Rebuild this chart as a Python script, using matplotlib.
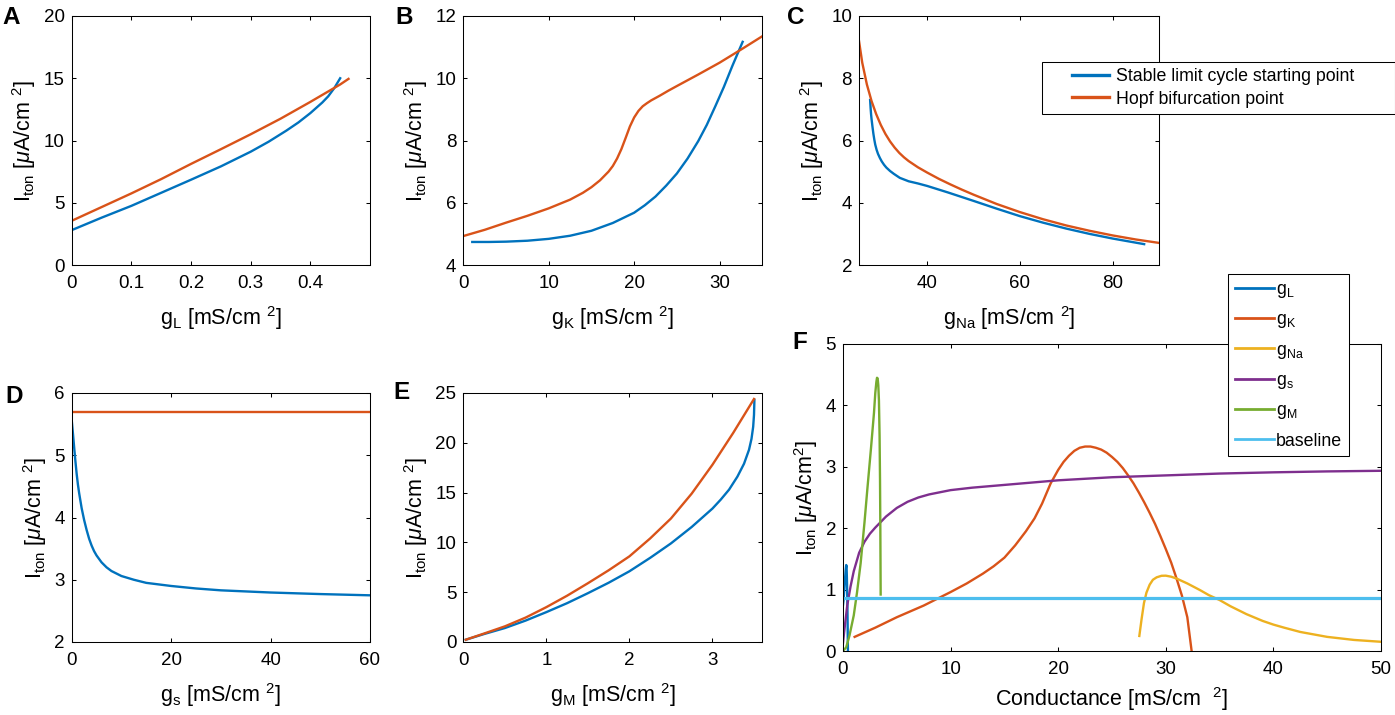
import numpy as np
import matplotlib
matplotlib.use('Agg')
import matplotlib.pyplot as plt
from matplotlib.patches import Rectangle

plt.rcParams['font.family'] = ['Liberation Sans', 'DejaVu Sans']
plt.rcParams['mathtext.fontset'] = 'custom'
plt.rcParams['mathtext.rm'] = 'Liberation Sans'
plt.rcParams['mathtext.it'] = 'Liberation Sans:italic'
plt.rcParams['mathtext.bf'] = 'Liberation Sans:bold'

BLUE = '#0072BD'
ORANGE = '#D95319'
YELLOW = '#EDB120'
PURPLE = '#7E2F8E'
GREEN = '#77AC30'
CYAN = '#4DBEEE'

W, H = 1395, 715
TICK_FS = 13.5
LABEL_FS = 15.5
LEG_FS = 12.8
LW = 1.7

# ---- A: g_L ----
gL_slc_x = [0, 0.05, 0.1, 0.15, 0.2, 0.25, 0.3, 0.33, 0.36, 0.38, 0.4, 0.42, 0.43, 0.44, 0.45]
gL_slc_y = [2.8, 3.8, 4.75, 5.8, 6.85, 7.92, 9.1, 9.9, 10.8, 11.45, 12.2, 13.05, 13.55, 14.2, 15.0]
gL_hopf_x = [0, 0.05, 0.1, 0.15, 0.2, 0.25, 0.3, 0.35, 0.4, 0.45, 0.464]
gL_hopf_y = [3.55, 4.65, 5.75, 6.9, 8.12, 9.3, 10.5, 11.75, 13.1, 14.5, 14.95]

# ---- B: g_K ----
gK_slc_x = [1.05, 3, 5, 7.5, 10, 12.5, 15, 17.5, 20, 21.25, 22.5, 23.75, 25, 26.25, 27.5, 28.5, 29.5,
            30.5, 31.5, 32.2, 32.7]
gK_slc_y = [4.74, 4.74, 4.75, 4.78, 4.84, 4.94, 5.1, 5.35, 5.68, 5.92, 6.2, 6.55, 6.94, 7.42, 7.98,
            8.5, 9.1, 9.72, 10.4, 10.85, 11.17]
gK_hopf_x = [0, 2.5, 5, 7.5, 10, 12.5, 14, 15, 16, 17, 17.5, 18, 18.5, 19, 19.5, 20, 20.5, 21, 21.5,
             22, 23, 24, 25, 27.5, 30, 32.5, 35]
gK_hopf_y = [4.93, 5.13, 5.36, 5.58, 5.82, 6.1, 6.32, 6.5, 6.72, 7.0, 7.18, 7.42, 7.72, 8.08, 8.45,
             8.74, 8.95, 9.1, 9.2, 9.29, 9.44, 9.6, 9.75, 10.12, 10.5, 10.92, 11.35]

# ---- C: g_Na ----
gNa_slc_x = [27.7, 27.8, 27.9, 28.0, 28.2, 28.4, 28.6, 28.8, 29.1, 29.4, 29.8, 30.2, 30.7, 31.2, 32,
             32.8, 34.1, 36, 38, 40, 44.5, 50, 55, 60, 65, 70, 75, 80, 86.8]
gNa_slc_y = [7.3, 7.05, 6.85, 6.7, 6.45, 6.22, 6.03, 5.87, 5.7, 5.57, 5.44, 5.33, 5.22, 5.13, 5.02,
             4.93, 4.8, 4.69, 4.62, 4.54, 4.33, 4.06, 3.81, 3.57, 3.36, 3.17, 3.0, 2.85, 2.67]
gNa_hopf_x = [25.3, 26, 27, 28, 29, 30, 31, 32, 33, 34, 35, 36, 38, 40, 42.5, 45, 47.5, 50, 55, 60,
              65, 70, 75, 80, 85, 90]
gNa_hopf_y = [9.2, 8.5, 7.8, 7.27, 6.85, 6.5, 6.21, 5.97, 5.77, 5.6, 5.46, 5.34, 5.14, 4.97, 4.77,
              4.59, 4.42, 4.26, 3.96, 3.7, 3.47, 3.27, 3.1, 2.95, 2.82, 2.71]

# ---- D: g_s ----
gs_slc_x = [0, 0.1, 0.25, 0.5, 0.75, 1, 1.25, 1.5, 2, 2.5, 3, 3.5, 4, 4.5, 5, 6, 7, 8, 9, 10, 12.5,
            15, 20, 25, 30, 40, 50, 60]
gs_slc_y = [5.57, 5.48, 5.35, 5.12, 4.9, 4.7, 4.53, 4.39, 4.15, 3.96, 3.8, 3.66, 3.55, 3.46, 3.39, 3.28,
            3.2, 3.14, 3.1, 3.06, 3.0, 2.95, 2.9, 2.86, 2.83, 2.795, 2.77, 2.75]
gs_hopf_x = [0, 60]
gs_hopf_y = [5.7, 5.7]

# ---- E: g_M ----
gM_slc_x = [0.03, 0.25, 0.5, 0.75, 1, 1.25, 1.5, 1.75, 2, 2.25, 2.5, 2.75, 3, 3.1, 3.2, 3.3, 3.38,
            3.44, 3.47, 3.49, 3.5, 3.505]
gM_slc_y = [0.23, 0.8, 1.4, 2.15, 3.0, 3.9, 4.9, 5.95, 7.1, 8.45, 9.9, 11.55, 13.4, 14.3, 15.3, 16.6,
            17.9, 19.3, 20.4, 21.6, 22.8, 24.3]
gM_hopf_x = [0.03, 0.25, 0.5, 0.75, 1, 1.25, 1.5, 1.75, 2, 2.25, 2.5, 2.75, 3, 3.25, 3.5]
gM_hopf_y = [0.23, 0.85, 1.57, 2.45, 3.5, 4.65, 5.9, 7.2, 8.6, 10.4, 12.4, 14.9, 17.8, 21.0, 24.4]

# ---- F: bistability width vs conductance ----
fL_x = [0, 0.05, 0.1, 0.15, 0.2, 0.25, 0.3, 0.33, 0.36, 0.4, 0.43, 0.45, 0.46]
fL_y = [0.75, 0.83, 0.95, 1.08, 1.2, 1.32, 1.4, 1.38, 1.2, 0.85, 0.45, 0.1, 0.0]
fK_x = [1.08, 3, 5, 7.5, 10, 11.5, 13, 14, 15, 16, 17, 17.8, 18.5, 19.3, 20, 20.5, 21, 21.5, 22, 22.5,
        23, 23.5, 24, 24.5, 25, 25.5, 26, 26.5, 27, 27.5, 28, 28.5, 29, 29.5, 30, 30.5, 31, 31.5, 32, 32.4]
fK_y = [0.23, 0.38, 0.55, 0.74, 0.96, 1.1, 1.26, 1.38, 1.52, 1.72, 1.95, 2.16, 2.4, 2.73, 2.95, 3.08,
        3.18, 3.26, 3.31, 3.33, 3.33, 3.31, 3.28, 3.23, 3.16, 3.08, 2.98, 2.86, 2.73, 2.58, 2.42, 2.25,
        2.07, 1.87, 1.66, 1.44, 1.18, 0.9, 0.55, 0.0]
fNa_x = [27.54, 27.75, 27.97, 28.2, 28.5, 28.8, 29.15, 29.6, 30.0, 30.5, 31.0, 32, 33.2, 34, 35, 36,
         37.5, 39, 40, 41, 42.5, 45, 47.5, 50]
fNa_y = [0.245, 0.52, 0.78, 0.95, 1.08, 1.16, 1.2, 1.225, 1.227, 1.21, 1.18, 1.1, 0.99, 0.91, 0.83,
         0.73, 0.6, 0.49, 0.43, 0.38, 0.31, 0.23, 0.18, 0.15]
fs_x = [0, 0.1, 0.2, 0.4, 0.7, 1.0, 1.5, 2, 2.5, 3, 3.5, 4, 5, 6, 7, 8, 10, 12, 14, 16, 18, 20, 25,
        30, 35, 40, 45, 50]
fs_y = [0.13, 0.3, 0.45, 0.75, 1.05, 1.3, 1.6, 1.78, 1.91, 2.01, 2.1, 2.19, 2.33, 2.43, 2.5, 2.55,
        2.62, 2.66, 2.69, 2.72, 2.75, 2.78, 2.83, 2.86, 2.89, 2.91, 2.925, 2.935]
fM_x = [0, 0.3, 0.6, 1.0, 1.3, 1.64, 2.0, 2.26, 2.6, 2.88, 3.0, 3.1, 3.16, 3.22, 3.28, 3.34, 3.4,
        3.44, 3.47, 3.5]
fM_y = [0.0, 0.06, 0.25, 0.58, 0.95, 1.43, 2.1, 2.63, 3.3, 3.88, 4.2, 4.38, 4.45, 4.44, 4.33, 4.08,
        3.5, 2.8, 2.0, 0.92]
base_x = [0, 50]
base_y = [0.86, 0.86]

F_labels = ['g$_{\\mathrm{L}}$', 'g$_{\\mathrm{K}}$', 'g$_{\\mathrm{Na}}$', 'g$_{\\mathrm{s}}$',
            'g$_{\\mathrm{M}}$', 'baseline']
leg_labels = ['Stable limit cycle starting point', 'Hopf bifurcation point']

YLAB = 'I$_{\\mathrm{ton}}$ [$\\mu$A/cm $^{2}$]'


def px_axes(fig, left, top, right, bottom):
    return fig.add_axes([left / W, 1 - bottom / H, (right - left) / W, (bottom - top) / H])


def style(ax, xlim, ylim, xticks, xticklabels, yticks, xlabel, ylabel, xpad=9):
    ax.set_xlim(xlim)
    ax.set_ylim(ylim)
    ax.set_xticks(xticks)
    ax.set_xticklabels(xticklabels)
    ax.set_yticks(yticks)
    ax.set_yticklabels([f'{t:g}' for t in yticks])
    ax.tick_params(direction='in', top=True, right=True, length=3, width=0.75,
                   labelsize=TICK_FS, pad=5)
    ax.tick_params(axis='x', pad=7)
    for s in ax.spines.values():
        s.set_linewidth(0.75)
    ax.set_xlabel(xlabel, fontsize=LABEL_FS, labelpad=xpad)
    ax.set_ylabel(ylabel, fontsize=LABEL_FS, labelpad=4)


fig = plt.figure(figsize=(W / 100, H / 100), dpi=100)

# A
ax = px_axes(fig, 71.7, 16, 370, 265)
ax.plot(gL_slc_x, gL_slc_y, color=BLUE, lw=LW)
ax.plot(gL_hopf_x, gL_hopf_y, color=ORANGE, lw=LW)
style(ax, [0, 0.5], [0, 20], [0, 0.1, 0.2, 0.3, 0.4], ['0', '0.1', '0.2', '0.3', '0.4'],
      [0, 5, 10, 15, 20], 'g$_{\\mathrm{L}}$ [mS/cm $^{2}$]', YLAB)

# B
ax = px_axes(fig, 463.3, 16, 762.3, 265)
ax.plot(gK_slc_x, gK_slc_y, color=BLUE, lw=LW)
ax.plot(gK_hopf_x, gK_hopf_y, color=ORANGE, lw=LW)
style(ax, [0, 35], [4, 12], [0, 10, 20, 30], ['0', '10', '20', '30'],
      [4, 6, 8, 10, 12], 'g$_{\\mathrm{K}}$ [mS/cm $^{2}$]', YLAB)

# C
ax = px_axes(fig, 859, 16, 1159, 265)
l1, = ax.plot(gNa_slc_x, gNa_slc_y, color=BLUE, lw=LW)
l2, = ax.plot(gNa_hopf_x, gNa_hopf_y, color=ORANGE, lw=LW)
style(ax, [25.3, 90], [2, 10], [40, 60, 80], ['40', '60', '80'],
      [2, 4, 6, 8, 10], 'g$_{\\mathrm{Na}}$ [mS/cm $^{2}$]', YLAB)

# legend for the top row, white box reaching the figure edge
fig.add_artist(Rectangle((1042 / W, 1 - 114 / H), (1394.5 - 1042) / W, (114 - 61.7) / H,
                         transform=fig.transFigure, facecolor='white', edgecolor='black',
                         lw=0.75, zorder=4))
legC = fig.legend([l1, l2], leg_labels, loc='center', bbox_to_anchor=(1213 / W, 1 - 88 / H),
                  frameon=False, fontsize=LEG_FS, handlelength=2.1, handletextpad=0.35,
                  labelspacing=0.3)
legC.set_zorder(5)
for lh in legC.get_lines():
    lh.set_linewidth(2.4)

# D
ax = px_axes(fig, 71.7, 393, 370, 642)
ax.plot(gs_slc_x, gs_slc_y, color=BLUE, lw=LW)
ax.plot(gs_hopf_x, gs_hopf_y, color=ORANGE, lw=LW)
style(ax, [0, 60], [2, 6], [0, 20, 40, 60], ['0', '20', '40', '60'],
      [2, 3, 4, 5, 6], 'g$_{\\mathrm{s}}$ [mS/cm $^{2}$]', YLAB)

# E
ax = px_axes(fig, 463.3, 393, 762.3, 642)
ax.plot(gM_slc_x, gM_slc_y, color=BLUE, lw=LW)
ax.plot(gM_hopf_x, gM_hopf_y, color=ORANGE, lw=LW)
style(ax, [0, 3.6], [0, 25], [0, 1, 2, 3], ['0', '1', '2', '3'],
      [0, 5, 10, 15, 20, 25], 'g$_{\\mathrm{M}}$ [mS/cm $^{2}$]', YLAB)

# F
ax = px_axes(fig, 843, 344, 1381, 651)
hs = []
for xs, ys, c, w in [(fL_x, fL_y, BLUE, LW), (fK_x, fK_y, ORANGE, LW), (fNa_x, fNa_y, YELLOW, LW),
                     (fs_x, fs_y, PURPLE, LW), (fM_x, fM_y, GREEN, LW), (base_x, base_y, CYAN, 2.3)]:
    h, = ax.plot(xs, ys, color=c, lw=w)
    hs.append(h)
style(ax, [0, 50], [0, 5], [0, 10, 20, 30, 40, 50], ['0', '10', '20', '30', '40', '50'],
      [0, 1, 2, 3, 4, 5], 'Conductance [mS/cm  $^{2}$]', 'I$_{\\mathrm{ton}}$ [$\\mu$A/cm$^{2}$]',
      xpad=5)
leg = ax.legend(hs, F_labels, loc='upper left', bbox_to_anchor=(1228 / W, 1 - 274 / H),
                bbox_transform=fig.transFigure, borderaxespad=0, fontsize=LEG_FS,
                handlelength=2.2, handletextpad=0.1, labelspacing=0.64, borderpad=0.38,
                fancybox=False, framealpha=1, edgecolor='black')
leg.get_frame().set_linewidth(0.75)
for lh in leg.get_lines():
    lh.set_linewidth(2.0)

# panel letters
for letter, x, y in [('A', 2, 24), ('B', 395, 24), ('C', 787, 24), ('D', 5, 403), ('E', 393, 399),
                     ('F', 792, 349)]:
    fig.text(x / W, 1 - y / H, letter, fontsize=17.5, fontweight='bold', ha='left', va='baseline')

fig.savefig('out.png', dpi=100)
